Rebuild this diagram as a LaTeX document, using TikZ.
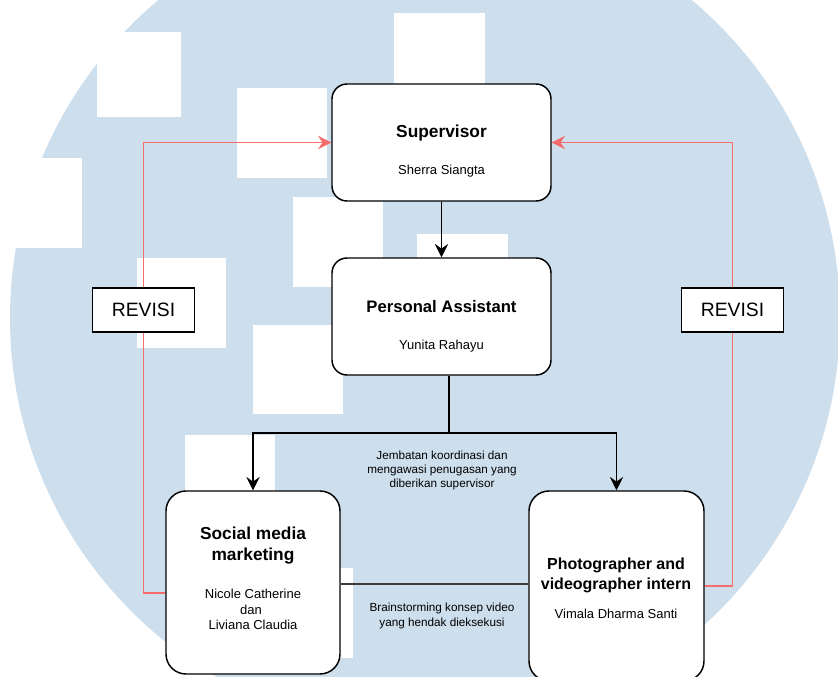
\documentclass[tikz,border=0pt]{standalone}
\usepackage{fontspec}
\setmainfont{Liberation Sans}
\usetikzlibrary{arrows.meta,calc}
\definecolor{wmblue}{RGB}{205,222,237}
\definecolor{revred}{RGB}{246,108,108}
\definecolor{linkgray}{RGB}{60,60,60}
\pgfdeclarelayer{wm}
\pgfdeclarelayer{lines}
\pgfsetlayers{wm,lines,main}
\begin{document}
\begin{tikzpicture}[x=0.75pt,y=-0.75pt,
  box/.style={draw=black, line width=1.1pt, fill=white, rounded corners=11.25pt, inner sep=0pt, minimum width=164.25pt, minimum height=87.75pt},
  bigbox/.style={draw=black, line width=1.1pt, fill=white, rounded corners=15pt, inner sep=0pt},
  revbox/.style={draw=black, line width=0.8pt, fill=white, inner sep=0pt, minimum width=76.5pt, minimum height=33pt, font=\fontsize{14.5}{16}\selectfont},
  txt/.style={inner sep=0pt, anchor=base},
  ttl/.style={txt, font=\fontsize{13}{15}\selectfont\bfseries},
  ttlsm/.style={txt, font=\fontsize{12}{14}\selectfont\bfseries},
  nm/.style={txt, font=\fontsize{9.75}{11}\selectfont},
  lbl/.style={txt, font=\fontsize{8.8}{10}\selectfont},
  blackarrow/.style={line width=1.1pt, -{Stealth[length=10pt,width=10pt,inset=3.5pt]}},
  blackline/.style={line width=1.1pt},
  redarrow/.style={draw=revred, line width=0.9pt, -{Stealth[length=10pt,width=10pt,inset=3.5pt]}},
  redline/.style={draw=revred, line width=0.9pt},
  wmrect/.style={fill=white, draw=none}
]
\useasboundingbox (0,0) rectangle (838,677);
\clip (0,0) rectangle (838,677);

% watermark
\begin{pgfonlayer}{wm}
\fill[white] (0,0) rectangle (838,677);
\fill[wmblue] (425,318) circle[radius=415];
\fill[wmrect] (97,32) rectangle (181,117);
\fill[wmrect] (0,158) rectangle (82,248);
\fill[wmrect] (237,88) rectangle (327,178);
\fill[wmrect] (394,13) rectangle (485,103);
\fill[wmrect] (293,197) rectangle (383,287);
\fill[wmrect] (417,234) rectangle (508,324);
\fill[wmrect] (137,258) rectangle (226,348);
\fill[wmrect] (253,325) rectangle (343,414);
\fill[wmrect] (185,435) rectangle (275,525);
\fill[wmrect] (263,568) rectangle (353,658);
\end{pgfonlayer}

% boxes
\node[box] (sup) at (441.5,142.5) {};
\node[box] (pa) at (441.5,316.5) {};
\node[bigbox, minimum width=130.5pt, minimum height=137.25pt] (smm) at (253,582.5) {};
\node[bigbox, minimum width=131.25pt, minimum height=142.5pt] (pvi) at (616.5,586) {};
\node[revbox] (rev1) at (143.5,310) {REVISI};
\node[revbox] (rev2) at (732.5,310) {REVISI};

% texts in boxes
\node[ttl] (supT) at (441.5,137.5) {Supervisor};
\node[nm] (supN) at (441.5,175) {Sherra Siangta};
\node[ttl, font=\fontsize{12.5}{14}\selectfont\bfseries] (paT) at (441.5,312.3) {Personal Assistant};
\node[nm] (paN) at (441.5,349.3) {Yunita Rahayu};
\node[ttl] (smmT1) at (253,539) {Social media};
\node[ttl] (smmT2) at (253,560.5) {marketing};
\node[nm] (smmN1) at (253,598) {Nicole Catherine};
\node[nm] (smmN2) at (251,614) {dan};
\node[nm] (smmN3) at (253,629.5) {Liviana Claudia};
\node[ttlsm] (pviT1) at (616,569.5) {Photographer and};
\node[ttlsm] (pviT2) at (616,589.5) {videographer intern};
\node[nm] (pviN) at (616,618.5) {Vimala Dharma Santi};

% connector labels
\node[lbl] (lblA1) at (442,459) {Jembatan koordinasi dan};
\node[lbl] (lblA2) at (442,473) {mengawasi penugasan yang};
\node[lbl] (lblA3) at (442,487) {diberikan supervisor};
\node[lbl] (lblB1) at (442,611.5) {Brainstorming konsep video};
\node[lbl] (lblB2) at (442,626) {yang hendak dieksekusi};

\coordinate (split) at (449,433);
\coordinate (brain) at (435,584);

\begin{pgfonlayer}{lines}
\draw[blackarrow] (sup.south) -- (pa.north);
\draw[blackline] (pa.south -| split) -- (split);
\draw[blackarrow] (split) -| (smm.north);
\draw[blackarrow] (split) -| (pvi.north);
\draw[draw=linkgray, line width=0.8pt] (smm.east |- brain) -- (pvi.west |- brain);
\draw[redarrow] ($(smm.west)+(0,10.5)$) -| (rev1.center) |- (sup.west);
\draw[redarrow] (pvi.east) -| (rev2.center) |- (sup.east);
\end{pgfonlayer}
\end{tikzpicture}
\end{document}
